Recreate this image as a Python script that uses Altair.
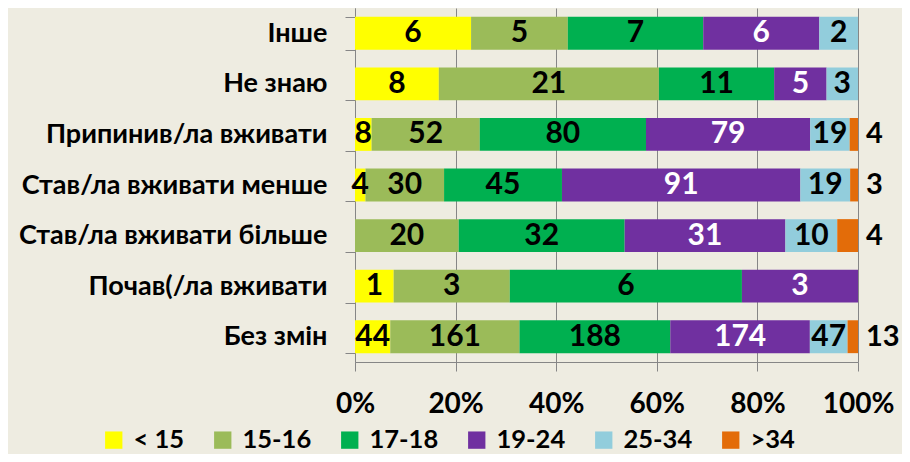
import altair as alt
import pandas as pd

categories = ["Інше", "Не знаю", "Припинив/ла вживати", "Став/ла вживати менше",
              "Став/ла вживати більше", "Почав(/ла вживати\u00a0", "Без змін"]
groups = ["< 15", "15-16", "17-18", "19-24", "25-34", ">34"]
colors = ["#FFFF00", "#9BBB59", "#00B050", "#7030A0", "#92CDDC", "#E36C09"]
v_lt15 = [6, 8, 8, 4, 0, 1, 44]
v_15_16 = [5, 21, 52, 30, 20, 3, 161]
v_17_18 = [7, 11, 80, 45, 32, 6, 188]
v_19_24 = [6, 5, 79, 91, 31, 3, 174]
v_25_34 = [2, 3, 19, 19, 10, 0, 47]
v_gt34 = [0, 0, 4, 3, 4, 0, 13]

series = [v_lt15, v_15_16, v_17_18, v_19_24, v_25_34, v_gt34]
rows = []
for gi, (g, vals) in enumerate(zip(groups, series)):
    for ci, (c, v) in enumerate(zip(categories, vals)):
        rows.append({"cat": c, "grp": g, "val": v, "ord": gi})
df = pd.DataFrame(rows)

FONT = "Lato"

base = alt.Chart(df).transform_joinaggregate(
    total="sum(val)", groupby=["cat"]
).transform_window(
    cum="sum(val)", sort=[alt.SortField("ord")], groupby=["cat"], frame=[None, 0]
).transform_calculate(
    start="(datum.cum - datum.val) / datum.total",
    end="datum.cum / datum.total",
).transform_calculate(
    mid="(datum.start + datum.end) / 2"
)

yenc = alt.Y(
    "cat:N", sort=categories, title=None,
    scale=alt.Scale(paddingInner=0.35, paddingOuter=0.175),
    axis=alt.Axis(labelFont=FONT, labelFontSize=27, labelFontWeight="bold",
                  labelColor="black", labelPadding=18, tickSize=10,
                  tickColor="#868686", domainColor="#868686", tickBand="extent",
                  grid=False, labelLimit=400),
)

bars = base.mark_bar().encode(
    x=alt.X("start:Q", title=None,
            scale=alt.Scale(domain=[0, 1], nice=False),
            axis=alt.Axis(values=[0, 0.2, 0.4, 0.6, 0.8, 1.0], format=".0%",
                          labelFont=FONT, labelFontSize=28, labelFontWeight="bold",
                          labelColor="black", labelPadding=19, tickSize=9,
                          labelFlush=False,
                          tickColor="#868686", domainColor="#868686",
                          gridColor="#868686", grid=True, gridWidth=1)),
    x2="end:Q",
    y=yenc,
    color=alt.Color("grp:N", sort=groups,
                    scale=alt.Scale(domain=groups, range=colors),
                    legend=alt.Legend(title=None, orient="none", direction="horizontal",
                                      legendX=-254, legendY=419,
                                      symbolType="square", symbolSize=300,
                                      symbolStrokeWidth=0, symbolOpacity=1,
                                      labelFont=FONT, labelFontSize=25.5,
                                      labelFontWeight="bold", labelColor="black",
                                      columnPadding=25, labelOffset=7)),
    order=alt.Order("ord:Q"),
)

inside = base.transform_filter("datum.val > 0 && datum.grp != '>34'").mark_text(
    font=FONT, fontSize=30, fontWeight="bold", baseline="middle", align="center"
).encode(
    x=alt.X("mid:Q"),
    y=alt.Y("cat:N", sort=categories),
    text=alt.Text("val:Q"),
    color=alt.condition("datum.grp == '19-24'", alt.value("white"), alt.value("black")),
)

outside = base.transform_filter("datum.val > 0 && datum.grp == '>34'").mark_text(
    font=FONT, fontSize=29, fontWeight="bold", baseline="middle", align="left",
    color="black", dx=8
).encode(
    x=alt.X("end:Q"),
    y=alt.Y("cat:N", sort=categories),
    text=alt.Text("val:Q"),
)

chart = alt.layer(bars, inside, outside).properties(
    width=503, height=354,
    autosize=alt.AutoSizeParams(type="none"),
    padding={"left": 347, "top": 0, "right": 44, "bottom": 92},
    background="#EEECE1",
).configure_view(stroke=None)

chart.save("out.html", embed_options={"renderer": "svg", "actions": False})
